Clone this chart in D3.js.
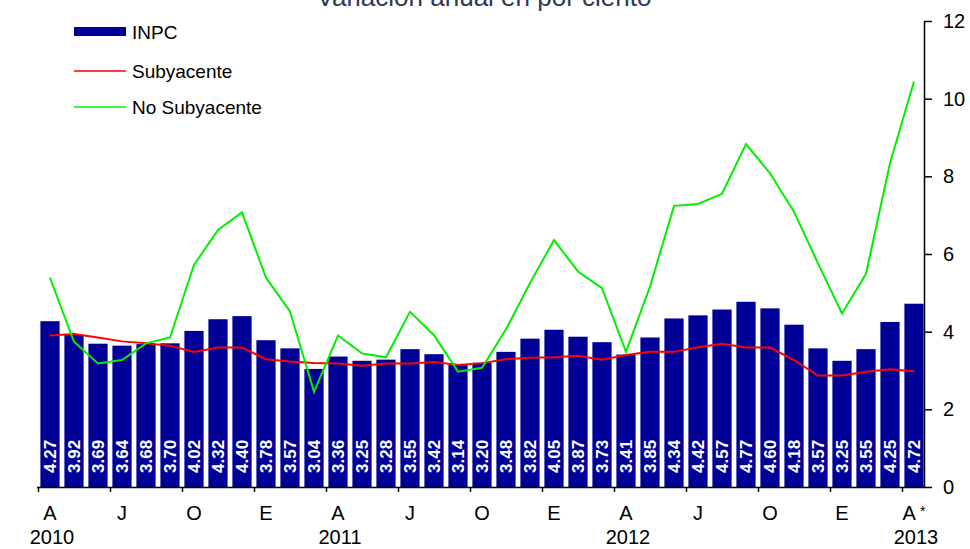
<!DOCTYPE html>
<html>
<head>
<meta charset="utf-8">
<script src="https://cdn.jsdelivr.net/npm/d3@7"></script>
<style>
  body { margin: 0; background: #fff; }
  svg { display: block; font-family: Arial, "Liberation Sans", sans-serif; }
</style>
</head>
<body>
<svg id="chart" width="970" height="549"></svg>
<script>
const width = 970
const height = 549

const periods = [
  "2010-04", "2010-05", "2010-06", "2010-07", "2010-08", "2010-09", "2010-10", "2010-11", "2010-12",
  "2011-01", "2011-02", "2011-03", "2011-04", "2011-05", "2011-06", "2011-07", "2011-08", "2011-09",
  "2011-10", "2011-11", "2011-12", "2012-01", "2012-02", "2012-03", "2012-04", "2012-05", "2012-06",
  "2012-07", "2012-08", "2012-09", "2012-10", "2012-11", "2012-12", "2013-01", "2013-02", "2013-03",
  "2013-04"
]

const inpc = [
  4.27, 3.92, 3.69, 3.64, 3.68, 3.70, 4.02, 4.32, 4.40, 3.78, 3.57, 3.04,
  3.36, 3.25, 3.28, 3.55, 3.42, 3.14, 3.20, 3.48, 3.82, 4.05, 3.87, 3.73,
  3.41, 3.85, 4.34, 4.42, 4.57, 4.77, 4.60, 4.18, 3.57, 3.25, 3.55, 4.25,
  4.72
]

const subyacente = [
  3.90, 3.94, 3.85, 3.75, 3.70, 3.64, 3.48, 3.59, 3.59, 3.29, 3.23, 3.19,
  3.18, 3.12, 3.18, 3.18, 3.22, 3.14, 3.19, 3.29, 3.33, 3.34, 3.38, 3.28,
  3.40, 3.48, 3.48, 3.60, 3.69, 3.59, 3.59, 3.27, 2.87, 2.87, 2.97, 3.03,
  2.98
]

const noSubyacente = [
  5.39, 3.74, 3.18, 3.27, 3.70, 3.85, 5.72, 6.62, 7.07, 5.39, 4.52, 2.45,
  3.90, 3.44, 3.34, 4.51, 3.91, 2.97, 3.07, 4.06, 5.25, 6.36, 5.55, 5.12,
  3.48, 5.16, 7.24, 7.29, 7.55, 8.83, 8.08, 7.09, 5.76, 4.47, 5.49, 8.34,
  10.44
]

const quarterTicks = ["2010-04", "2010-07", "2010-10", "2011-01", "2011-04", "2011-07", "2011-10",
  "2012-01", "2012-04", "2012-07", "2012-10", "2013-01", "2013-04"]
const quarterNames = ["A", "J", "O", "E", "A", "J", "O", "E", "A", "J", "O", "E", "A"]
const yearTicks = ["2010-04", "2011-04", "2012-04", "2013-04"]
const yearNames = ["2010", "2011", "2012", "2013"]
const yTicks = [0, 2, 4, 6, 8, 10, 12]

const barColor = "#000099"
const subColor = "#ff0000"
const noSubColor = "#00ee00"

const svg = d3.select("#chart")

const x = d3.scaleBand()
  .domain(periods)
  .range([38, 926])
  .paddingInner(0.2)
  .paddingOuter(0.1)

// boundary scale for the tick marks between months
const xEdge = d3.scaleLinear()
  .domain([0, periods.length])
  .range([38, 926])

const y = d3.scaleLinear()
  .domain([0, 12])
  .range([487, 21])

const axisX = 924
const cx = p => x(p) + x.bandwidth() / 2

// title (cut at top as in the source)
svg.append("text")
  .attr("x", 484)
  .attr("y", 6)
  .attr("text-anchor", "middle")
  .style("font-size", "26px")
  .style("fill", "#2b3a55")
  .text("Variación anual en por ciento")

// bars
svg.selectAll(".bar")
  .data(periods)
  .enter()
  .append("rect")
    .attr("class", "bar")
    .attr("x", d => x(d))
    .attr("width", x.bandwidth())
    .attr("y", (d, i) => y(inpc[i]))
    .attr("height", (d, i) => y(0) - y(inpc[i]))
    .style("fill", barColor)

// bar labels
svg.selectAll(".bar-label")
  .data(periods)
  .enter()
  .append("text")
    .attr("class", "bar-label")
    .attr("transform", d => `translate(${cx(d)}, 473) rotate(-90)`)
    .attr("dy", "0.35em")
    .style("font-size", "17px")
    .style("font-weight", "bold")
    .style("fill", "#fff")
    .text((d, i) => inpc[i].toFixed(2))

// lines
const line = vals => d3.line()
  .x((d, i) => cx(periods[i]))
  .y(d => y(d))(vals)

svg.append("path")
  .attr("d", line(subyacente))
  .style("fill", "none")
  .style("stroke", subColor)
  .style("stroke-width", 2)

svg.append("path")
  .attr("d", line(noSubyacente))
  .style("fill", "none")
  .style("stroke", noSubColor)
  .style("stroke-width", 2)

// x axis: line + boundary ticks
const xTickAxis = d3.axisBottom(xEdge)
  .tickValues(d3.range(0, periods.length, 3))
  .tickFormat("")
  .tickSize(5)
  .tickSizeOuter(0)

const gx = svg.append("g")
  .attr("transform", `translate(0, ${y(0)})`)
  .call(xTickAxis)
gx.select(".domain").attr("d", `M37,0.5H${axisX}`)
gx.selectAll("line, path").style("stroke", "#000").style("stroke-width", 1.5)

// month letters
const monthAxis = d3.axisBottom(x)
  .tickValues(quarterTicks)
  .tickFormat(d => quarterNames[quarterTicks.indexOf(d)])
  .tickSize(0)
  .tickPadding(19)

const gm = svg.append("g")
  .attr("transform", `translate(0, ${y(0)})`)
  .call(monthAxis)
gm.select(".domain").remove()
gm.selectAll("text")
  .style("font-size", "20px")
  .style("font-family", "Arial, 'Liberation Sans', sans-serif")
  .style("fill", "#000")
gm.selectAll("text")
  .filter(d => d === "2013-04")
  .append("tspan")
    .attr("dx", "0.3em")
    .attr("dy", "-0.3em")
    .style("font-size", "14px")
    .text("*")

// years
const yearAxis = d3.axisBottom(x)
  .tickValues(yearTicks)
  .tickFormat(d => yearNames[yearTicks.indexOf(d)])
  .tickSize(0)
  .tickPadding(43)

const gyr = svg.append("g")
  .attr("transform", `translate(2, ${y(0)})`)
  .call(yearAxis)
gyr.select(".domain").remove()
gyr.selectAll("text")
  .style("font-size", "20px")
  .style("font-family", "Arial, 'Liberation Sans', sans-serif")
  .style("fill", "#000")

// y axis on the right
const yAxis = d3.axisRight(y)
  .tickValues(yTicks)
  .tickSize(8)
  .tickSizeOuter(0)
  .tickPadding(11)

const gy = svg.append("g")
  .attr("transform", `translate(${axisX}, 0)`)
  .call(yAxis)
gy.selectAll("line, path").style("stroke", "#000").style("stroke-width", 1.5)
gy.selectAll("text")
  .style("font-size", "20px")
  .style("font-family", "Arial, 'Liberation Sans', sans-serif")
  .style("fill", "#000")

// legend
const legend = svg.append("g")

legend.append("rect")
  .attr("x", 74)
  .attr("y", 27)
  .attr("width", 52)
  .attr("height", 9)
  .style("fill", barColor)

legend.append("line")
  .attr("x1", 74).attr("x2", 126)
  .attr("y1", 71).attr("y2", 71)
  .style("stroke", subColor)
  .style("stroke-width", 1.5)

legend.append("line")
  .attr("x1", 74).attr("x2", 126)
  .attr("y1", 107).attr("y2", 107)
  .style("stroke", noSubColor)
  .style("stroke-width", 1.5)

legend.selectAll(".legend-label")
  .data(["INPC", "Subyacente", "No Subyacente"])
  .enter()
  .append("text")
    .attr("class", "legend-label")
    .attr("x", 132)
    .attr("y", (d, i) => [32, 71, 107][i])
    .attr("dy", "0.35em")
    .style("font-size", "19px")
    .style("fill", "#000")
    .text(d => d)
</script>
</body>
</html>
